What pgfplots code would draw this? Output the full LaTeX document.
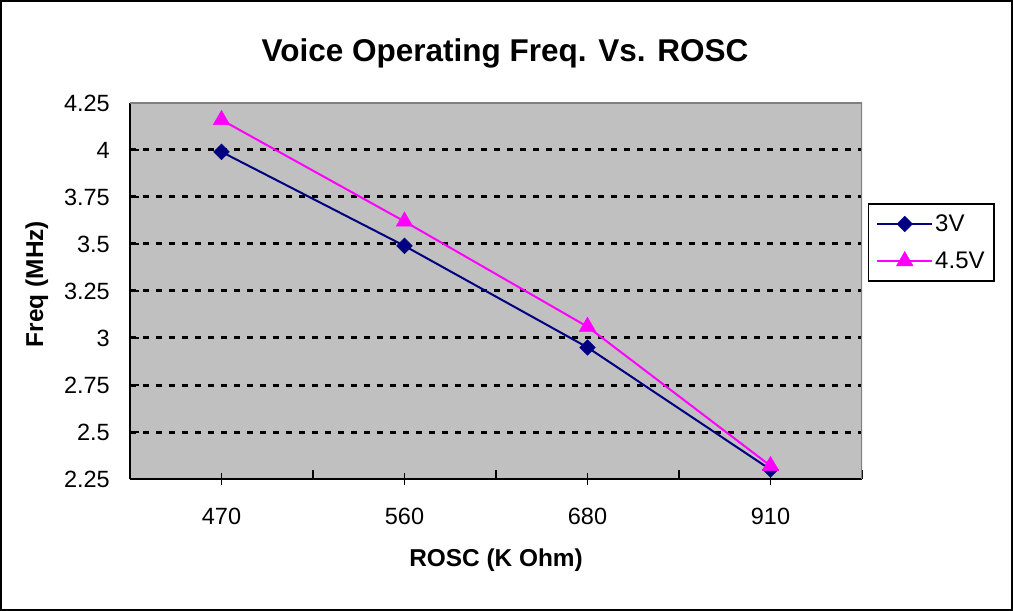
\documentclass[border=0pt]{standalone}
\usepackage{pgfplots}
\pgfplotsset{compat=1.18}
\usepackage{fontspec}
\setmainfont{Liberation Sans}
\definecolor{navyc}{RGB}{0,0,128}
\definecolor{magc}{RGB}{255,0,255}
\definecolor{plotgray}{RGB}{192,192,192}
\definecolor{framegray}{RGB}{128,128,128}
\begin{document}
\begin{tikzpicture}[x=1pt,y=1pt]
\useasboundingbox (0,0) rectangle (1013,611);
\draw[line width=1.5pt] (1,1) rectangle (1012,610);
\begin{axis}[
  at={(130pt,132pt)}, anchor=south west,
  scale only axis, width=732pt, height=376pt,
  xmin=-0.5, xmax=3.5, ymin=2.25, ymax=4.25,
  axis lines=left,
  axis line style={-, line width=1.5pt, black},
  axis background/.style={fill=plotgray},
  tick align=inside, major tick length=9pt,
  tick style={line width=1.5pt, black},
  xtick={-0.5,0.5,1.5,2.5,3.5}, xticklabels={},
  extra x ticks={0,1,2,3},
  extra x tick labels={470,560,680,910},
  extra x tick style={tick align=center, major tick length=12pt, grid=none},
  xticklabel style={font=\fontsize{23.5}{27}\selectfont, anchor=base, inner sep=0pt, yshift=-39pt},
  ytick={2.5,2.75,3,3.25,3.5,3.75,4},
  yticklabels={2.5,2.75,3,3.25,3.5,3.75,4},
  extra y ticks={2.25,4.25},
  extra y tick labels={2.25,4.25},
  extra y tick style={grid=none},
  yticklabel style={font=\fontsize{23.5}{27}\selectfont, anchor=east, inner sep=0pt, xshift=-20pt},
  ymajorgrids,
  grid style={black, line width=3pt, dash pattern=on 6pt off 7pt},
  major grid style={black, line width=3pt, dash pattern=on 6pt off 7pt},
  every axis y grid/.append style={line width=3pt},
  legend style={at={(axis description cs:1.0082,0.734)}, anchor=north west,
    draw=black, line width=1.5pt, fill=white,
    font=\fontsize{24}{28}\selectfont,
    inner xsep=7.5pt, inner ysep=9pt, row sep=15pt},
  legend cell align=left,
  legend image code/.code={\draw[mark repeat=2,mark phase=2,#1] plot coordinates {(0pt,0pt) (27.5pt,0pt) (55pt,0pt)};},
]
\addplot[navyc, line width=2pt, mark=square*, mark size=5.5pt,
  mark options={rotate=45, solid, fill=navyc, draw=navyc, line width=0.5pt}]
  coordinates {(0,3.99) (1,3.49) (2,2.95) (3,2.30)};
\addlegendentry{3V}
\addplot[magc, line width=2pt, mark=triangle*, mark size=9.5pt,
  mark options={solid, fill=magc, draw=magc, line width=0.5pt}]
  coordinates {(0,4.16) (1,3.62) (2,3.06) (3,2.32)};
\addlegendentry{4.5V}
\draw[framegray, line width=1.5pt] (rel axis cs:0,1) -- (rel axis cs:1,1) -- (rel axis cs:1,0);
\end{axis}
\node[anchor=base, font=\fontsize{31.5}{36}\selectfont\bfseries] at (505,549) {Voice Operating Freq. Vs. ROSC};
\node[anchor=base, font=\fontsize{24.4}{28}\selectfont\bfseries] at (496,44) {ROSC (K Ohm)};
\node[anchor=base, rotate=90, font=\fontsize{24.4}{28}\selectfont\bfseries] at (43,327) {Freq (MHz)};
\end{tikzpicture}
\end{document}
